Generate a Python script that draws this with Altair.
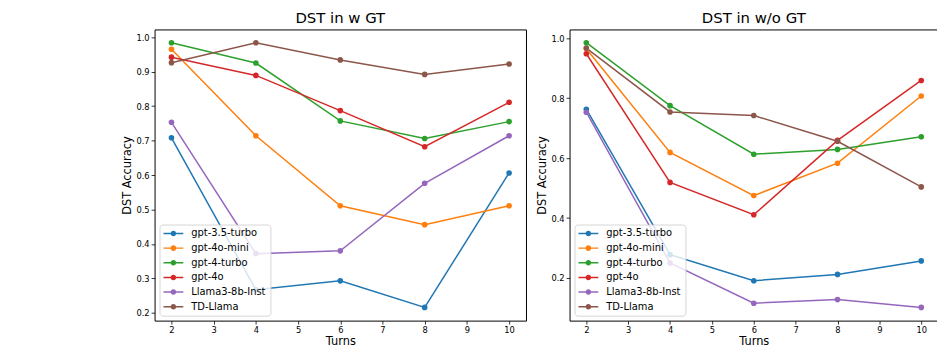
import altair as alt
import pandas as pd

turns = [2, 4, 6, 8, 10]
series = ["gpt-3.5-turbo", "gpt-4o-mini", "gpt-4-turbo", "gpt-4o", "Llama3-8b-Inst", "TD-Llama"]
colors = ["#1f77b4", "#ff7f0e", "#2ca02c", "#d62728", "#9467bd", "#8c564b"]

# DST in w GT
w_gpt35 = [0.708, 0.267, 0.293, 0.216, 0.606]
w_gpt4omini = [0.965, 0.714, 0.511, 0.456, 0.511]
w_gpt4turbo = [0.984, 0.925, 0.757, 0.706, 0.755]
w_gpt4o = [0.942, 0.889, 0.787, 0.682, 0.811]
w_llama3 = [0.753, 0.372, 0.380, 0.576, 0.714]
w_tdllama = [0.926, 0.984, 0.934, 0.892, 0.922]

# DST in w/o GT
wo_gpt35 = [0.763, 0.278, 0.191, 0.212, 0.257]
wo_gpt4omini = [0.965, 0.619, 0.475, 0.583, 0.807]
wo_gpt4turbo = [0.985, 0.775, 0.613, 0.629, 0.671]
wo_gpt4o = [0.948, 0.519, 0.411, 0.659, 0.859]
wo_llama3 = [0.753, 0.250, 0.116, 0.128, 0.102]
wo_tdllama = [0.967, 0.754, 0.742, 0.656, 0.504]

w_vals = [w_gpt35, w_gpt4omini, w_gpt4turbo, w_gpt4o, w_llama3, w_tdllama]
wo_vals = [wo_gpt35, wo_gpt4omini, wo_gpt4turbo, wo_gpt4o, wo_llama3, wo_tdllama]

left_ticks = [0.2, 0.3, 0.4, 0.5, 0.6, 0.7, 0.8, 0.9, 1.0]
right_ticks = [0.2, 0.4, 0.6, 0.8, 1.0]
x_ticks = [2, 3, 4, 5, 6, 7, 8, 9, 10]


def make_df(vals):
    rows = []
    for i, name in enumerate(series):
        for t, v in zip(turns, vals[i]):
            rows.append({"model": name, "order": i, "turn": t, "acc": v})
    return pd.DataFrame(rows)


def domain_with_margin(df):
    lo, hi = df["acc"].min(), df["acc"].max()
    m = (hi - lo) * 0.05
    return [lo - m, hi + m]


# legend glyph: a short line with a dot in its middle (units of 5 px)
SYMBOL = ("M-1,-0.15L3,-0.15L3,0.15L-1,0.15Z"
          "M0.44,0A0.56,0.56,0,1,1,1.56,0A0.56,0.56,0,1,1,0.44,0Z")


def panel(vals, title, yticks, width):
    df = make_df(vals)
    base = alt.Chart(df).encode(
        x=alt.X("turn:Q",
                scale=alt.Scale(domain=[1.6, 10.4], nice=False, zero=False),
                axis=alt.Axis(values=x_ticks, format="d", title="Turns")),
        y=alt.Y("acc:Q",
                scale=alt.Scale(domain=domain_with_margin(df), nice=False, zero=False),
                axis=alt.Axis(values=yticks, format=".1f", title="DST Accuracy")),
        color=alt.Color("model:N",
                        scale=alt.Scale(domain=series, range=colors),
                        sort=series,
                        legend=alt.Legend(title=None, orient="bottom-left",
                                          symbolType=SYMBOL, symbolSize=100,
                                          symbolStrokeWidth=0)),
    )
    line = base.mark_line(strokeWidth=1.5)
    pts = base.mark_circle(size=32, opacity=1)
    return alt.layer(line, pts).properties(width=width, height=294, title=title)


left = panel(w_vals, "DST in w GT", left_ticks, 375)
right = panel(wo_vals, "DST in w/o GT", right_ticks, 372)

chart = alt.hconcat(left, right, spacing=9).resolve_scale(
    color="independent", y="independent"
).properties(
    padding={"left": 114, "top": 0, "right": -2, "bottom": 0}
).configure_view(
    stroke="black", strokeWidth=1
).configure_axis(
    grid=False, domain=False, tickColor="black", tickSize=3.5, tickWidth=0.8,
    labelColor="black", labelFont="DejaVu Sans", labelFontSize=8.4, labelPadding=2,
    titleFont="DejaVu Sans", titleFontSize=11.5, titleFontWeight="normal",
    titleColor="black", titlePadding=3
).configure_axisX(
    titlePadding=1
).configure_title(
    font="DejaVu Sans", fontSize=15, fontWeight="normal", color="black", offset=4
).configure_legend(
    labelFont="DejaVu Sans", labelFontSize=10, labelColor="black",
    fillColor="rgba(255,255,255,0.8)", strokeColor="rgba(204,204,204,0.8)",
    cornerRadius=3, padding=4, offset=5, labelOffset=18, rowPadding=4.8
)

chart.save("out.html", embed_options={"renderer": "svg", "actions": False})
